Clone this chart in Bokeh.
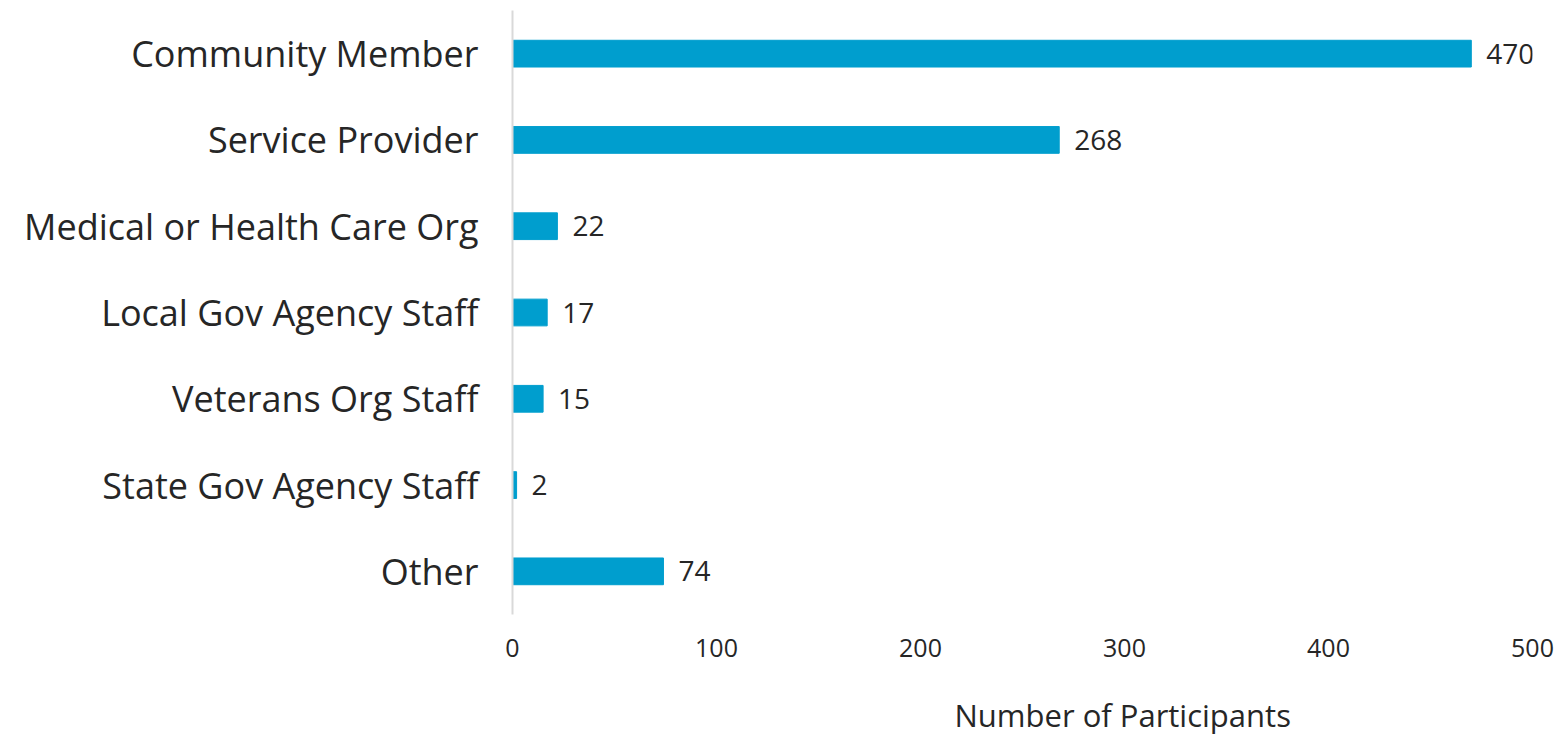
from bokeh.plotting import figure
from bokeh.models import ColumnDataSource, FactorRange, Range1d, Title, FixedTicker
from bokeh.embed import file_html
from bokeh.resources import INLINE
from bokeh.core.properties import value

categories = ["Community Member", "Service Provider", "Medical or Health Care Org",
              "Local Gov Agency Staff", "Veterans Org Staff", "State Gov Agency Staff", "Other"]
counts = [470, 268, 22, 17, 15, 2, 74]
x_ticks = [0, 100, 200, 300, 400, 500]
x_title = "Number of Participants"

FONT = "Open Sans"
TXT = "#262626"
BAR = "#009ECE"

src = ColumnDataSource(dict(cat=categories, val=counts, lbl=[str(v) for v in counts]))

p = figure(width=1556, height=739, output_backend="svg", toolbar_location=None,
           y_range=FactorRange(factors=list(reversed(categories))),
           x_range=Range1d(0, 500),
           min_border_left=512, min_border_right=24, min_border_top=10, min_border_bottom=10)
p.outline_line_color = None
p.grid.grid_line_color = None
p.background_fill_color = "white"

p.hbar(y="cat", right="val", left=0, height=0.31, source=src, color=BAR)
p.text(x="val", y="cat", text="lbl", source=src, x_offset=15, text_baseline="middle",
       text_align="left", text_font=value(FONT), text_font_size="28px", text_color=TXT)

xa = p.xaxis[0]
xa.ticker = FixedTicker(ticks=x_ticks)
xa.axis_line_color = None
xa.major_tick_line_color = None
xa.minor_tick_line_color = None
xa.major_label_text_font = FONT
xa.major_label_text_font_size = "25px"
xa.major_label_text_color = TXT
xa.major_label_standoff = 18
# invisible spacer label to push the offset title lower
xa.axis_label = "\u00a0"
xa.axis_label_text_font_size = "12px"
xa.axis_label_standoff = 15

ya = p.yaxis[0]
ya.axis_line_color = "#D9D9D9"
ya.axis_line_width = 2
ya.major_tick_line_color = None
ya.minor_tick_line_color = None
ya.major_label_text_font = FONT
ya.major_label_text_font_size = "36px"
ya.major_label_text_color = TXT
ya.major_label_standoff = 28

p.add_layout(Title(text=x_title, align="left", offset=442, text_font=FONT,
                   text_font_size="31px", text_font_style="normal", text_color=TXT,
                   vertical_align="top", standoff=4), "below")

open("out.html", "w").write(file_html(p, INLINE))
